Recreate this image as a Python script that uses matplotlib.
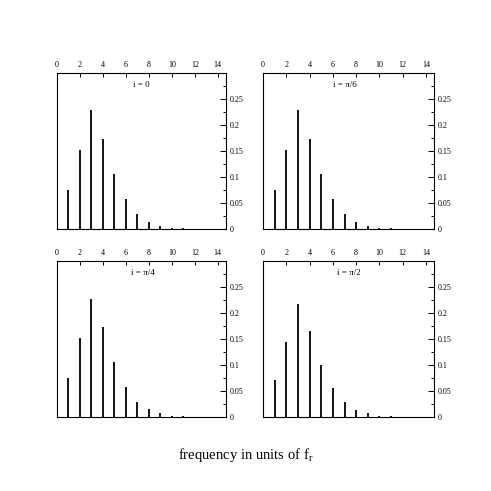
import matplotlib
matplotlib.use("Agg")
from matplotlib import pyplot as plt
from matplotlib.ticker import MultipleLocator

plt.rcParams["font.family"] = "Liberation Serif"
plt.rcParams["mathtext.fontset"] = "stix"

# harmonic number (units of f_r)
harmonics = [1, 2, 3, 4, 5, 6, 7, 8, 9, 10, 11]

# relative power per harmonic, one list per inclination
power_i0 = [0.074, 0.152, 0.228, 0.173, 0.105, 0.057, 0.029, 0.0135, 0.006, 0.0022, 0.0007]
power_pi6 = [0.074, 0.152, 0.228, 0.173, 0.105, 0.057, 0.029, 0.0135, 0.006, 0.0022, 0.0007]
power_pi4 = [0.074, 0.151, 0.227, 0.173, 0.105, 0.058, 0.029, 0.0143, 0.0065, 0.0025, 0.0008]
power_pi2 = [0.071, 0.143, 0.217, 0.165, 0.100, 0.055, 0.028, 0.013, 0.0065, 0.0025, 0.0008]

panel_labels = ["i = 0", "i = \u03c0/6", "i = \u03c0/4", "i = \u03c0/2"]
panel_values = [power_i0, power_pi6, power_pi4, power_pi2]

xtick_vals = [0, 2, 4, 6, 8, 10, 12, 14]
ytick_vals = [0, 0.05, 0.1, 0.15, 0.2, 0.25]
ytick_labels = ["0", "0.05", "0.1", "0.15", "0.2", "0.25"]

fig = plt.figure(figsize=(4.91, 4.91), dpi=100)

# axes boxes in figure fractions [left, bottom, width, height]
boxes = [
    [0.116, 0.534, 0.344, 0.318],
    [0.536, 0.534, 0.348, 0.318],
    [0.116, 0.151, 0.344, 0.318],
    [0.536, 0.151, 0.348, 0.318],
]
label_x = [7.3, 7.0, 7.5, 7.4]

for box, label, vals, lx in zip(boxes, panel_labels, panel_values, label_x):
    ax = fig.add_axes(box)
    ax.vlines(harmonics, 0, vals, color="black", linewidth=1.3)
    ax.set_xlim(0, 14.7)
    ax.set_ylim(0, 0.3)
    for sp in ax.spines.values():
        sp.set_linewidth(0.8)

    ax.xaxis.tick_top()
    ax.set_xticks(xtick_vals)
    ax.set_xticklabels([str(v) for v in xtick_vals])
    ax.tick_params(axis="x", which="major", direction="in", length=3,
                   width=0.7, labelsize=5.8, pad=2.5)

    ax.yaxis.tick_right()
    ax.set_yticks(ytick_vals)
    ax.set_yticklabels(ytick_labels)
    ax.yaxis.set_minor_locator(MultipleLocator(0.025))
    ax.tick_params(axis="y", which="major", direction="in", length=4,
                   width=0.7, labelsize=5.8, pad=2.5)
    ax.tick_params(axis="y", which="minor", direction="in", length=2.5,
                   width=0.7)

    ax.text(lx, 0.277, label, fontsize=6.5, ha="center", va="center")

fig.text(0.5, 0.073, "frequency in units of $\\mathregular{f_r}$",
         fontsize=10.5, ha="center", va="center")

plt.savefig("out.png", dpi=100)
plt.close(fig)
